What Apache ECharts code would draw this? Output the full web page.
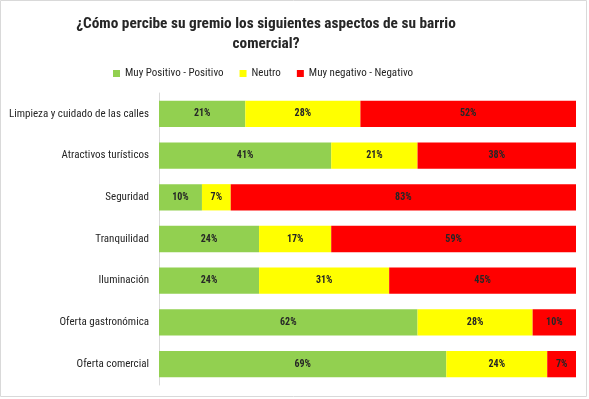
<!DOCTYPE html>
<html><head><meta charset="utf-8">
<script src="https://cdn.jsdelivr.net/npm/echarts@6/dist/echarts.min.js"></script>
<style>html,body{margin:0;padding:0;background:#fff}#c{width:589px;height:399px}</style>
</head><body><div id="c"></div>
<script>
const categories = ["Limpieza y cuidado de las calles","Atractivos turísticos","Seguridad","Tranquilidad","Iluminación","Oferta gastronómica","Oferta comercial"];
const positivo = [20.7, 41.3, 10.3, 24.0, 24.0, 62.0, 68.9];
const neutro   = [27.6, 20.7, 6.9, 17.3, 31.2, 27.6, 24.2];
const negativo = [51.7, 38.0, 82.8, 58.7, 44.8, 10.4, 6.9];
const seriesNames = ["Muy Positivo - Positivo","Neutro","Muy negativo - Negativo"];
const colors = ["#92d050","#ffff00","#ff0000"];
const FONT = '"Roboto Condensed", Roboto, sans-serif';
const chart = echarts.init(document.getElementById('c'), null, {renderer:'canvas'});
const lbl = {show:true, position:'inside', color:'#262626', fontSize:10, fontWeight:'bold', fontFamily:FONT,
  formatter: p => Math.round(p.value) + '%'};
const mk = (name, data, i) => ({name, type:'bar', stack:'t', data, barWidth:'63%',
  itemStyle:{color:colors[i]}, label:lbl, emphasis:{disabled:true}});
chart.setOption({
  animation:false,
  title:{text:"¿Cómo percibe su gremio los siguientes aspectos de su barrio\ncomercial?", left:261, textAlign:'center', top:9,
    textStyle:{fontSize:15.3, fontWeight:'bold', color:'#262626', fontFamily:FONT, lineHeight:20}},
  legend:{top:63, left:108, itemWidth:7, itemHeight:7, itemGap:16, icon:'rect',
    textStyle:{fontSize:11, color:'#262626', fontFamily:FONT}, data:seriesNames},
  grid:{left:159, right:13, top:93, bottom:14, containLabel:false},
  xAxis:{type:'value', min:0, max:100, show:false},
  yAxis:{type:'category', data:categories, inverse:true,
    axisLine:{show:true, lineStyle:{color:'#d9d9d9'}}, axisTick:{show:false},
    axisLabel:{fontSize:11, color:'#262626', fontFamily:FONT, margin:10}},
  series:[mk(seriesNames[0],positivo,0), mk(seriesNames[1],neutro,1), mk(seriesNames[2],negativo,2)],
  graphic:[{type:'rect', shape:{x:0.5,y:0.5,width:586,height:396}, style:{fill:null, stroke:'#d9d9d9', lineWidth:1}, silent:true}]
});
</script></body></html>
